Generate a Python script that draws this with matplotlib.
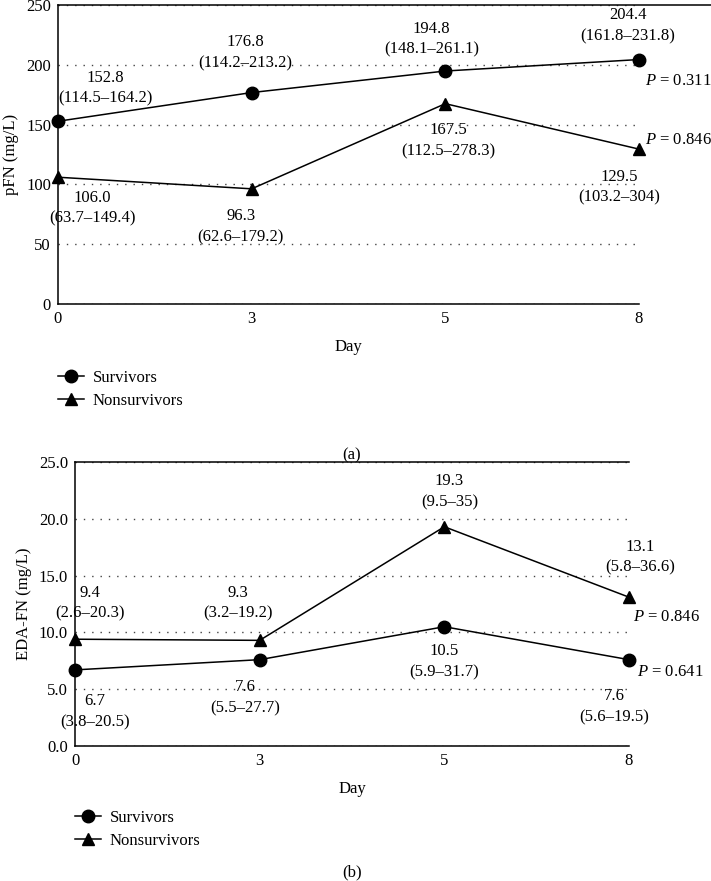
import matplotlib
matplotlib.use("Agg")
import matplotlib.pyplot as plt
from matplotlib.lines import Line2D

plt.rcParams["font.family"] = ["Liberation Serif", "DejaVu Serif"]
plt.rcParams["font.size"] = 12
plt.rcParams["mathtext.fontset"] = "custom"
plt.rcParams["mathtext.rm"] = "Liberation Serif"
plt.rcParams["mathtext.it"] = "Liberation Serif:italic"

days = ["0", "3", "5", "8"]

pfn_surv = [152.8, 176.8, 194.8, 204.4]
pfn_surv_iqr = ["114.5–164.2", "114.2–213.2", "148.1–261.1", "161.8–231.8"]
pfn_non = [106.0, 96.3, 167.5, 129.5]
pfn_non_iqr = ["63.7–149.4", "62.6–179.2", "112.5–278.3", "103.2–304"]
pfn_p = ["0.311", "0.846"]  # survivors, nonsurvivors
pfn_ticks = [0, 50, 100, 150, 200, 250]

eda_surv = [6.7, 7.6, 10.5, 7.6]
eda_surv_iqr = ["3.8–20.5", "5.5–27.7", "5.9–31.7", "5.6–19.5"]
eda_non = [9.4, 9.3, 19.3, 13.1]
eda_non_iqr = ["2.6–20.3", "3.2–19.2", "9.5–35", "5.8–36.6"]
eda_p = ["0.641", "0.846"]  # survivors, nonsurvivors
eda_ticks = [0.0, 5.0, 10.0, 15.0, 20.0, 25.0]

DPI = 100
fig = plt.figure(figsize=(7.11, 8.81), dpi=DPI)
W, H = 711, 881
LINE_GAP = 10.5  # half the distance between value line and range line, px


def px_axes(left, top, right, bottom):
    return fig.add_axes([left / W, 1 - bottom / H, (right - left) / W, (bottom - top) / H])


def draw_panel(ax, surv, surv_iqr, non, non_iqr, p_vals, ticks, fmt, ylabel,
               surv_off, non_off, p_off):
    x = range(len(days))
    ax.plot(x, surv, color="black", lw=1.1, marker="o", ms=9, clip_on=False, zorder=3)
    ax.plot(x, non, color="black", lw=1.1, marker="^", ms=9, clip_on=False, zorder=3)
    ax.set_xlim(0, len(days) - 1)
    ax.set_ylim(ticks[0], ticks[-1])
    ax.set_xticks(list(x))
    ax.set_xticklabels(days)
    ax.set_yticks(ticks)
    ax.set_yticklabels([fmt.format(t) for t in ticks])
    ax.tick_params(length=0, pad=5)
    ax.spines["right"].set_visible(False)
    ax.yaxis.grid(True, color="#444444", linestyle=(0, (1, 5)), lw=1.0)
    ax.set_axisbelow(True)
    ax.set_xlabel("Day", labelpad=9)
    ax.set_ylabel(ylabel, labelpad=5)

    for vals, iqrs, offs in ((surv, surv_iqr, surv_off), (non, non_iqr, non_off)):
        for i, (v, r) in enumerate(zip(vals, iqrs)):
            dx, dy = offs[i]
            ax.annotate(f"{v:.1f}", xy=(i, v), xytext=(dx, dy + LINE_GAP),
                        textcoords="offset pixels", ha="center", va="center",
                        annotation_clip=False)
            ax.annotate(f"({r})", xy=(i, v), xytext=(dx, dy - LINE_GAP),
                        textcoords="offset pixels", ha="center", va="center",
                        annotation_clip=False)
    last = len(days) - 1
    for vals, p, off in ((surv, p_vals[0], p_off[0]), (non, p_vals[1], p_off[1])):
        ax.annotate(f"$P$ = {p}", xy=(last, vals[last]), xytext=off,
                    textcoords="offset pixels", ha="left", va="center",
                    annotation_clip=False)


# panel (a)
ax1 = px_axes(58, 5, 639, 304)
draw_panel(ax1, pfn_surv, pfn_surv_iqr, pfn_non, pfn_non_iqr, pfn_p, pfn_ticks,
           "{:.0f}", "pFN (mg/L)",
           surv_off=[(47, 33), (-6, 40), (-14, 32), (-11, 34)],
           non_off=[(34, -31), (-11, -38), (3, -37), (-20, -38)],
           p_off=[(6, -21), (6, 9)])
ax1.spines["top"].set_visible(False)
ax1.axhline(pfn_ticks[-1], xmin=0, xmax=1.13, color="black", lw=1.1, clip_on=False)

# panel (b)
ax2 = px_axes(75, 462, 629, 746)
draw_panel(ax2, eda_surv, eda_surv_iqr, eda_non, eda_non_iqr, eda_p, eda_ticks,
           "{:.1f}", "EDA-FN (mg/L)",
           surv_off=[(20, -42), (-14, -38), (0, -35), (-15, -47)],
           non_off=[(15, 36), (-22, 37), (5, 35), (11, 40)],
           p_off=[(8, -12), (4, -20)])

for ax in (ax1, ax2):
    for s in ax.spines.values():
        s.set_linewidth(1.1)

handles = [
    Line2D([], [], color="black", lw=1.1, marker="o", ms=9),
    Line2D([], [], color="black", lw=1.1, marker="^", ms=9),
]
labels = ["Survivors", "Nonsurvivors"]
for lx, ly in ((58, 389.5), (75, 829.5)):
    fig.legend(handles, labels, loc="center left", bbox_to_anchor=(lx / W, 1 - ly / H),
               frameon=False, handlelength=1.55, handletextpad=0.55, labelspacing=0.45,
               borderpad=0, borderaxespad=0)

fig.text(352 / W, 1 - 455 / H, "(a)", ha="center", va="center")
fig.text(352 / W, 1 - 872 / H, "(b)", ha="center", va="center")

fig.savefig("out.png", dpi=DPI)
